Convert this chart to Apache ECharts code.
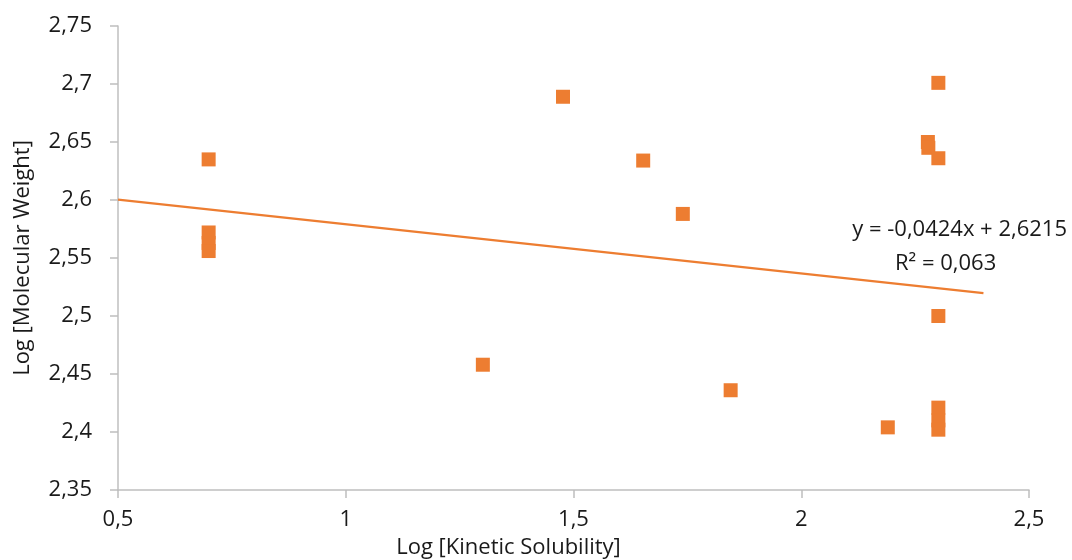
<!DOCTYPE html>
<html>
<head>
<meta charset="utf-8">
<script src="https://cdn.jsdelivr.net/npm/echarts@6/dist/echarts.min.js"></script>
<style>
  html, body { margin: 0; padding: 0; background: #fff; }
  #chart { width: 1072px; height: 560px; }
</style>
</head>
<body>
<div id="chart"></div>
<script>
// Log kinetic solubility (x) vs log molecular weight (y)
const logSolubility = [0.699, 0.699, 0.699, 0.699, 1.301, 1.477, 1.653, 1.740, 1.845, 2.190,
                       2.278, 2.279, 2.301, 2.301, 2.301, 2.301, 2.301, 2.301];
const logMolWeight  = [2.635, 2.572, 2.563, 2.556, 2.458, 2.689, 2.634, 2.588, 2.436, 2.404,
                       2.650, 2.645, 2.701, 2.636, 2.500, 2.421, 2.410, 2.402];

// Linear trend fitted to the points
const trendSlope = -0.0424;
const trendIntercept = 2.6215;
const trendRange = [0.5, 2.4];
const trendLabel = 'y = -0,0424x + 2,6215';
const r2Label = 'R² = 0,063';

const xTicks = { min: 0.5, max: 2.5, interval: 0.5 };
const yTicks = { min: 2.35, max: 2.75, interval: 0.05 };

const points = logSolubility.map((x, i) => [x, logMolWeight[i]]);
const trend = trendRange.map(x => [x, trendSlope * x + trendIntercept]);

const comma = v => String(+v.toFixed(2)).replace('.', ',');
const font = 'Open Sans';
const fontSize = 22;
const textColor = '#1a1a1a';
const axisGray = '#BFBFBF';
const orange = '#ED7D31';

const chart = echarts.init(document.getElementById('chart'));
chart.setOption({
  animation: false,
  grid: { left: 118, right: 43, top: 26, bottom: 70, containLabel: false, outerBoundsMode: 'none' },
  xAxis: {
    type: 'value',
    min: xTicks.min, max: xTicks.max, interval: xTicks.interval,
    name: 'Log [Kinetic Solubility]',
    nameLocation: 'middle',
    nameGap: 47,
    nameTextStyle: { fontFamily: font, fontSize: fontSize, color: textColor, padding: [0, 130, 0, 0] },
    axisLine: { lineStyle: { color: axisGray, width: 1.5 } },
    axisTick: { show: true, length: 8, lineStyle: { color: axisGray, width: 1.5 } },
    splitLine: { show: false },
    axisLabel: { fontFamily: font, fontSize: fontSize, color: textColor, margin: 19, formatter: comma }
  },
  yAxis: {
    type: 'value',
    min: yTicks.min, max: yTicks.max, interval: yTicks.interval,
    name: 'Log [Molecular Weight]',
    nameLocation: 'middle',
    nameGap: 84,
    nameTextStyle: { fontFamily: font, fontSize: fontSize, color: textColor },
    axisLine: { show: true, lineStyle: { color: axisGray, width: 1.5 } },
    axisTick: { show: true, length: 8, lineStyle: { color: axisGray, width: 1.5 } },
    splitLine: { show: false },
    axisLabel: { fontFamily: font, fontSize: fontSize, color: textColor, margin: 26, formatter: comma }
  },
  series: [
    {
      type: 'line',
      data: trend,
      symbol: 'none',
      lineStyle: { color: orange, width: 2.25 },
      z: 1
    },
    {
      type: 'scatter',
      data: points,
      symbol: 'rect',
      symbolSize: 14,
      itemStyle: { color: orange, opacity: 1 },
      z: 2
    }
  ],
  graphic: [
    {
      type: 'text', right: 5, top: 219,
      style: { text: trendLabel, font: fontSize + 'px "Open Sans"', fill: textColor, textAlign: 'right' }
    },
    {
      type: 'text', left: 895, top: 253,
      style: { text: r2Label, font: fontSize + 'px "Open Sans"', fill: textColor }
    }
  ]
});
</script>
</body>
</html>
